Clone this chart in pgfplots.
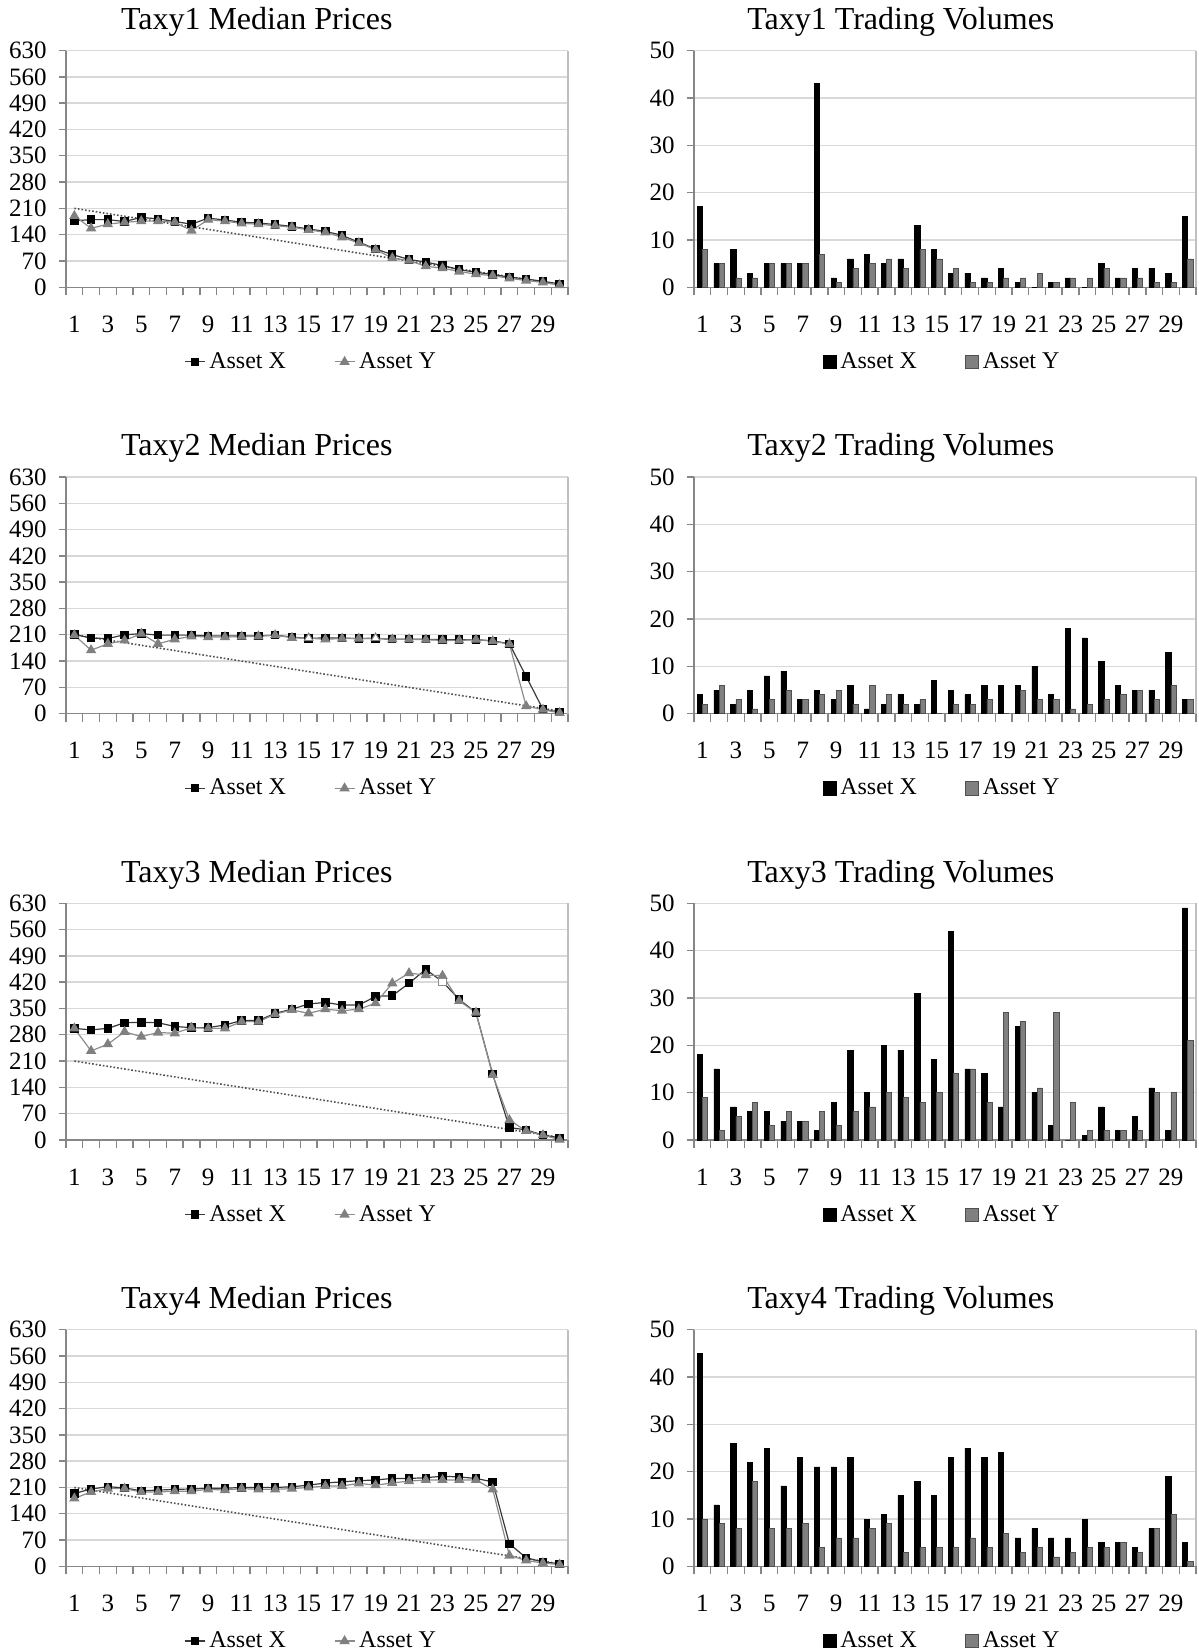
\documentclass[border=0pt]{standalone}
\usepackage{fontspec}
\setmainfont{Liberation Serif}
\usepackage{pgfplots}
\usepackage{pgfplotstable}
\pgfplotsset{compat=1.18}
\definecolor{gridgray}{HTML}{D9D9D9}
\definecolor{axisgray}{HTML}{868686}
\definecolor{bordergray}{HTML}{BFBFBF}
\definecolor{serY}{HTML}{808080}
\definecolor{lineX}{HTML}{3A3A3A}
\definecolor{lineY}{HTML}{8C8C8C}
\definecolor{fundc}{HTML}{505050}

% Prices: t X Y
\pgfplotstableread{
t X Y
1 177 190
2 180 157
3 180 168
4 175 173
5 186 176
6 182 176
7 175 173
8 168 151
9 184 180
10 179 176
11 173 170
12 171 168
13 167 164
14 162 160
15 155 153
16 149 146
17 138 133
18 120 118
19 102 100
20 87 78
21 74 71
22 67 56
23 58 51
24 47 42
25 40 35
26 34 31
27 27 24
28 22 18
29 16 13
30 9 6
}\Pone
\pgfplotstableread{
t X Y
1 211 209
2 201 169
3 200 186
4 210 195
5 213 213
6 209 186
7 209 198
8 209 206
9 207 204
10 207 204
11 207 205
12 207 206
13 209 209
14 204 202
15 200 201
16 202 198
17 201 200
18 200 200
19 200 201
20 198 198
21 198 198
22 198 197
23 197 195
24 197 195
25 197 197
26 194 193
27 186 185
28 99 20
29 12 11
30 4 2
}\Ptwo
\pgfplotstableread{
t X Y
1 297 297
2 293 237
3 297 255
4 312 288
5 313 275
6 312 286
7 302 284
8 299 299
9 299 297
10 306 297
11 318 315
12 318 315
13 337 335
14 348 346
15 362 337
16 366 348
17 359 344
18 359 348
19 382 364
20 384 417
21 417 444
22 454 439
23 421 437
24 374 370
25 339 339
26 175 173
27 33 53
28 27 24
29 13 13
30 6 1
}\Pthree
\pgfplotstableread{
t X Y
1 194 181
2 206 198
3 212 207
4 209 207
5 201 198
6 203 198
7 205 200
8 206 200
9 208 205
10 208 203
11 210 207
12 210 205
13 210 205
14 212 207
15 216 210
16 222 214
17 225 214
18 228 221
19 230 216
20 234 222
21 234 227
22 236 230
23 240 230
24 238 230
25 234 230
26 225 205
27 60 29
28 23 16
29 12 9
30 7 5
}\Pfour
% Volumes: t X Y
\pgfplotstableread{
t X Y
1 17 8
2 5 5
3 8 2
4 3 2
5 5 5
6 5 5
7 5 5
8 43 7
9 2 1
10 6 4
11 7 5
12 5 6
13 6 4
14 13 8
15 8 6
16 3 4
17 3 1
18 2 1
19 4 2
20 1 2
21 0 3
22 1 1
23 2 2
24 0 2
25 5 4
26 2 2
27 4 2
28 4 1
29 3 1
30 15 6
}\Vone
\pgfplotstableread{
t X Y
1 4 2
2 5 6
3 2 3
4 5 1
5 8 3
6 9 5
7 3 3
8 5 4
9 3 5
10 6 2
11 1 6
12 2 4
13 4 2
14 2 3
15 7 0
16 5 2
17 4 2
18 6 3
19 6 0
20 6 5
21 10 3
22 4 3
23 18 1
24 16 2
25 11 3
26 6 4
27 5 5
28 5 3
29 13 6
30 3 3
}\Vtwo
\pgfplotstableread{
t X Y
1 18 9
2 15 2
3 7 5
4 6 8
5 6 3
6 4 6
7 4 4
8 2 6
9 8 3
10 19 6
11 10 7
12 20 10
13 19 9
14 31 8
15 17 10
16 44 14
17 15 15
18 14 8
19 7 27
20 24 25
21 10 11
22 3 27
23 0 8
24 1 2
25 7 2
26 2 2
27 5 2
28 11 10
29 2 10
30 49 21
}\Vthree
\pgfplotstableread{
t X Y
1 45 10
2 13 9
3 26 8
4 22 18
5 25 8
6 17 8
7 23 9
8 21 4
9 21 6
10 23 6
11 10 8
12 11 9
13 15 3
14 18 4
15 15 4
16 23 4
17 25 6
18 23 4
19 24 7
20 6 3
21 8 4
22 6 2
23 6 3
24 10 4
25 5 4
26 5 5
27 4 3
28 8 8
29 19 11
30 5 1
}\Vfour

\pgfplotsset{
  base/.style={
    scale only axis, width=251pt, height=118.4pt,
    axis lines=left, axis line style={-, axisgray, line width=0.7pt},
    xmin=0.5, xmax=30.5,
    xtick={1,3,...,29},
    minor xtick={0.5,1.5,...,30.5},
    tick align=outside,
    major tick length=3.5pt, minor tick length=4pt,
    major x tick style={draw=none},
    minor x tick style={axisgray, line width=0.7pt},
    major y tick style={axisgray, line width=0.7pt},
    ymajorgrids, grid style={gridgray, line width=0.7pt},
    tick label style={font=\fontsize{12.5}{15}\selectfont},
    /pgf/number format/assume math mode=true,
    xticklabel style={anchor=center, yshift=-15pt},
    yticklabel style={anchor=east, inner sep=0pt, xshift=-6pt},
    title style={font=\fontsize{16}{19}\selectfont, anchor=center},
    legend style={draw=none, fill=none, anchor=center, legend columns=2,
      font=\fontsize{12}{14}\selectfont,
      /tikz/every even column/.append style={column sep=22pt}},
    extra description/.code={\draw[bordergray, line width=0.7pt] (rel axis cs:1,0) -- (rel axis cs:1,1);},
    clip=false,
  },
  price/.style={base, ymin=0, ymax=630, ytick={0,70,...,630},
    title style={at={(0.380,1.071)}},
    legend style={at={(0.49,-0.315)}}},
  vol/.style={base, ymin=0, ymax=50, ytick={0,10,...,50},
    title style={at={(0.412,1.071)}},
    legend style={at={(0.496,-0.315)}}},
  linelegend/.style={legend image code/.code={\draw[mark repeat=2,mark phase=2,##1] plot coordinates {(0pt,0pt) (5pt,0pt) (10pt,0pt)};}},
  sqlegend/.style={legend image code/.code={\draw[##1,/tikz/.cd] (0pt,-3.3pt) rectangle (6.6pt,3.3pt);}},
  fund/.style={fundc, densely dotted, line width=0.8pt, forget plot},
  serX/.style={lineX, line width=0.6pt, mark=square*, mark size=1.8pt, mark options={solid, fill=black, draw=black}, linelegend},
  serYl/.style={lineY, line width=0.6pt, mark=triangle*, mark size=2.4pt, mark options={solid, fill=serY, draw=serY}, linelegend},
  barX/.style={ybar, bar width=0.3125, bar shift=-0.156, fill=black, draw=black, line width=0.3pt, sqlegend},
  barY/.style={ybar, bar width=0.3125, bar shift=0.156, fill=serY, draw=fundc, line width=0.3pt, sqlegend},
}

\begin{document}
\begin{tikzpicture}
\useasboundingbox (0,0) rectangle (599.5pt,-825pt);

% ---------- Row 1 ----------
\begin{axis}[price, at={(33pt,-25.25pt)}, anchor=north west, title={Taxy1 Median Prices}]
\addplot[fund] coordinates {(1,210) (30,7)};
\addplot[serX] table[x=t, y=X] {\Pone};
\addplot[serYl] table[x=t, y=Y] {\Pone};
\legend{Asset X, Asset Y}
\end{axis}
\begin{axis}[vol, at={(347pt,-25.25pt)}, anchor=north west, title={Taxy1 Trading Volumes}]
\addplot[barX] table[x=t, y=X] {\Vone};
\addplot[barY] table[x=t, y=Y] {\Vone};
\legend{Asset X, Asset Y}
\end{axis}

% ---------- Row 2 ----------
\begin{axis}[price, at={(33pt,-238.45pt)}, anchor=north west, title={Taxy2 Median Prices}]
\addplot[fund] coordinates {(1,210) (30,7)};
\addplot[serX] table[x=t, y=X] {\Ptwo};
\addplot[serYl] table[x=t, y=Y] {\Ptwo};
\addplot[only marks, mark=triangle*, mark size=2.4pt, mark options={fill=white, draw=serY}, forget plot] coordinates {(15,201) (19,201)};
\legend{Asset X, Asset Y}
\end{axis}
\begin{axis}[vol, at={(347pt,-238.45pt)}, anchor=north west, title={Taxy2 Trading Volumes}]
\addplot[barX] table[x=t, y=X] {\Vtwo};
\addplot[barY] table[x=t, y=Y] {\Vtwo};
\legend{Asset X, Asset Y}
\end{axis}

% ---------- Row 3 ----------
\begin{axis}[price, at={(33pt,-451.6pt)}, anchor=north west, title={Taxy3 Median Prices}]
\addplot[fund] coordinates {(1,210) (30,7)};
\addplot[serX] table[x=t, y=X] {\Pthree};
\addplot[serYl] table[x=t, y=Y] {\Pthree};
\addplot[only marks, mark=square*, mark size=1.8pt, mark options={fill=white, draw=lineY}, forget plot] coordinates {(23,421)};
\legend{Asset X, Asset Y}
\end{axis}
\begin{axis}[vol, at={(347pt,-451.6pt)}, anchor=north west, title={Taxy3 Trading Volumes}]
\addplot[barX] table[x=t, y=X] {\Vthree};
\addplot[barY] table[x=t, y=Y] {\Vthree};
\legend{Asset X, Asset Y}
\end{axis}

% ---------- Row 4 ----------
\begin{axis}[price, at={(33pt,-664.8pt)}, anchor=north west, title={Taxy4 Median Prices}]
\addplot[fund] coordinates {(1,210) (30,7)};
\addplot[serX] table[x=t, y=X] {\Pfour};
\addplot[serYl] table[x=t, y=Y] {\Pfour};
\legend{Asset X, Asset Y}
\end{axis}
\begin{axis}[vol, at={(347pt,-664.8pt)}, anchor=north west, title={Taxy4 Trading Volumes}]
\addplot[barX] table[x=t, y=X] {\Vfour};
\addplot[barY] table[x=t, y=Y] {\Vfour};
\legend{Asset X, Asset Y}
\end{axis}
\end{tikzpicture}
\end{document}
